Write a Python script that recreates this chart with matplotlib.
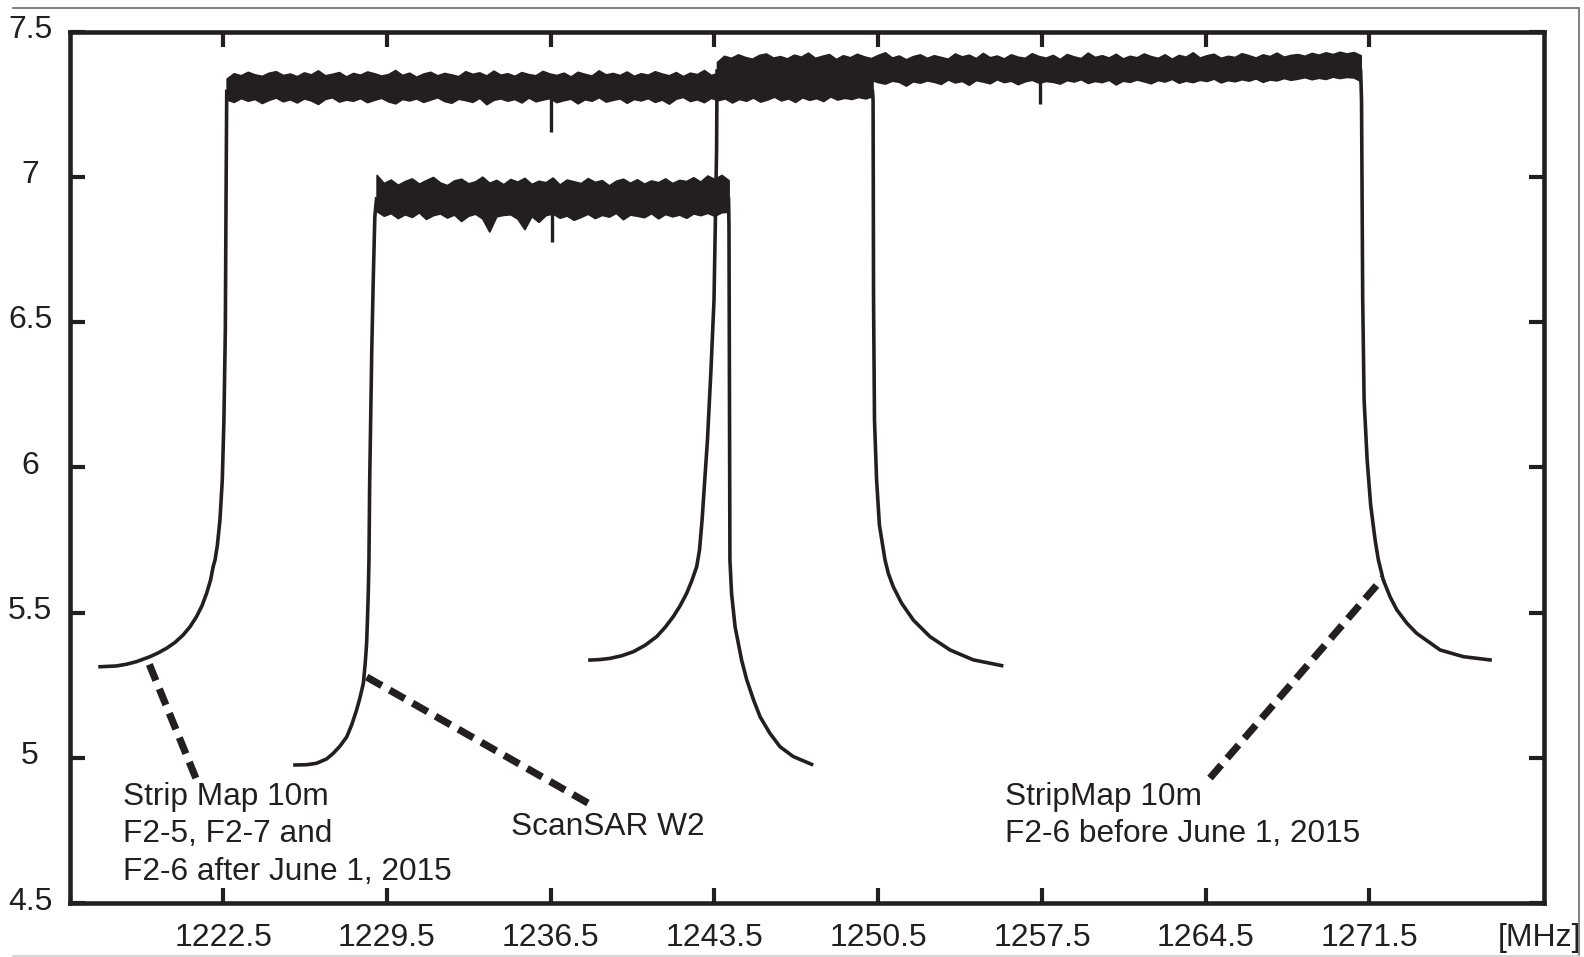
import numpy as np
import matplotlib
matplotlib.use('Agg')
import matplotlib.pyplot as plt
from matplotlib.lines import Line2D
from matplotlib.transforms import ScaledTranslation

plt.rcParams['font.family'] = ['Liberation Sans', 'DejaVu Sans']

# ---------------- axis data ----------------
x_ticks = [1222.5, 1229.5, 1236.5, 1243.5, 1250.5, 1257.5, 1264.5, 1271.5]
x_tick_labels = ['1222.5', '1229.5', '1236.5', '1243.5', '1250.5', '1257.5', '1264.5', '1271.5']
y_ticks = [4.5, 5.0, 5.5, 6.0, 6.5, 7.0, 7.5]
y_tick_labels = ['4.5', '5', '5.5', '6', '6.5', '7', '7.5']
unit_label = '[MHz]'
unit_pos = 1278.75

# ---------------- spectrum A: Strip Map 10m (after June 1, 2015) ----------------
A_left_x = [1217.16, 1217.94, 1218.37, 1218.80, 1219.37, 1219.72, 1220.08, 1220.44,
            1220.79, 1221.08, 1221.36, 1221.59, 1221.79, 1221.96, 1222.07, 1222.15,
            1222.25, 1222.36, 1222.46, 1222.53, 1222.59, 1222.62, 1222.65]
A_left_y = [5.313, 5.316, 5.322, 5.331, 5.348, 5.361, 5.377, 5.397,
            5.423, 5.451, 5.486, 5.523, 5.566, 5.612, 5.658, 5.681,
            5.732, 5.818, 5.956, 6.163, 6.473, 6.920, 7.300]
A_top_start, A_top_end = 1222.65, 1250.25
A_top_upper = [7.338, 7.356, 7.349, 7.361, 7.352, 7.347, 7.358, 7.363, 7.350, 7.355,
               7.346, 7.359, 7.352, 7.366, 7.349, 7.354, 7.360, 7.345, 7.357, 7.351,
               7.362, 7.356, 7.348, 7.353, 7.367, 7.350, 7.358, 7.344, 7.355, 7.361,
               7.349, 7.357, 7.352, 7.346, 7.363, 7.354, 7.359, 7.348, 7.365, 7.351,
               7.356, 7.347, 7.360, 7.353, 7.349, 7.364, 7.355, 7.350, 7.358, 7.345,
               7.361, 7.354, 7.348, 7.366, 7.352, 7.357, 7.350, 7.362, 7.347, 7.356,
               7.351, 7.363, 7.355, 7.349, 7.360, 7.346, 7.358, 7.353, 7.367, 7.350,
               7.357, 7.362, 7.348, 7.355, 7.351, 7.364, 7.357, 7.349, 7.360, 7.354,
               7.366, 7.352, 7.358, 7.347, 7.361, 7.355, 7.350, 7.363, 7.356, 7.352,
               7.359, 7.354, 7.348]
A_top_lower = [7.266, 7.258, 7.271, 7.262, 7.268, 7.254, 7.265, 7.273, 7.260, 7.267,
               7.256, 7.270, 7.263, 7.251, 7.268, 7.274, 7.259, 7.266, 7.262, 7.271,
               7.257, 7.265, 7.272, 7.260, 7.253, 7.268, 7.263, 7.270, 7.258, 7.266,
               7.274, 7.261, 7.255, 7.269, 7.264, 7.258, 7.272, 7.250, 7.265, 7.270,
               7.262, 7.268, 7.256, 7.273, 7.260, 7.266, 7.271, 7.257, 7.264, 7.269,
               7.253, 7.267, 7.262, 7.274, 7.259, 7.265, 7.270, 7.255, 7.268, 7.263,
               7.271, 7.258, 7.266, 7.252, 7.269, 7.275, 7.261, 7.267, 7.257, 7.272,
               7.264, 7.270, 7.256, 7.268, 7.262, 7.273, 7.259, 7.266, 7.276, 7.263,
               7.270, 7.258, 7.274, 7.265, 7.271, 7.261, 7.277, 7.266, 7.272, 7.268,
               7.275, 7.270, 7.278]
A_right_x = [1250.25, 1250.28, 1250.30, 1250.34, 1250.43, 1250.55, 1250.79, 1250.93,
             1251.14, 1251.50, 1252.00, 1252.71, 1253.57, 1254.56, 1255.85]
A_right_y = [7.300, 7.264, 6.576, 6.163, 5.957, 5.801, 5.681, 5.635,
             5.589, 5.532, 5.474, 5.417, 5.371, 5.337, 5.316]

# ---------------- spectrum B: ScanSAR W2 ----------------
B_left_x = [1225.49, 1226.07, 1226.49, 1226.92, 1227.20, 1227.49, 1227.78, 1227.99,
            1228.20, 1228.34, 1228.49, 1228.57, 1228.63, 1228.67, 1228.70, 1228.73,
            1228.76, 1228.85, 1228.91, 1228.98, 1229.06]
B_left_y = [4.975, 4.976, 4.981, 4.996, 5.015, 5.040, 5.072, 5.113,
            5.164, 5.205, 5.256, 5.325, 5.394, 5.486, 5.566, 5.681,
            5.946, 6.404, 6.634, 6.862, 6.930]
B_top_start, B_top_end = 1229.06, 1244.10
B_top_upper = [7.006, 6.978, 6.990, 6.972, 6.985, 6.994, 6.976, 6.988, 6.999, 6.980,
               6.971, 6.987, 6.993, 6.977, 6.984, 7.000, 6.979, 6.989, 6.974, 6.992,
               6.983, 6.996, 6.975, 6.986, 6.981, 6.997, 6.973, 6.990, 6.984, 6.978,
               6.995, 6.982, 6.988, 6.970, 6.986, 6.993, 6.979, 6.991, 6.976, 6.987,
               6.981, 6.994, 6.978, 6.989, 6.985, 6.998, 6.983, 7.004, 6.992, 7.006,
               6.988]
B_top_lower = [6.882, 6.866, 6.875, 6.858, 6.871, 6.862, 6.878, 6.855, 6.868, 6.874,
               6.860, 6.870, 6.848, 6.866, 6.873, 6.857, 6.812, 6.864, 6.869, 6.871,
               6.856, 6.820, 6.865, 6.845, 6.868, 6.874, 6.859, 6.867, 6.852, 6.862,
               6.873, 6.858, 6.869, 6.863, 6.876, 6.854, 6.870, 6.866, 6.861, 6.875,
               6.857, 6.872, 6.864, 6.870, 6.859, 6.874, 6.868, 6.876, 6.866, 6.878,
               6.880]
B_right_x = [1244.10, 1244.12, 1244.16, 1244.23, 1244.38, 1244.66, 1244.88, 1245.17,
             1245.45, 1245.87, 1246.30, 1246.87, 1247.72]
B_right_y = [6.930, 6.830, 5.681, 5.566, 5.451, 5.336, 5.268, 5.199,
             5.141, 5.084, 5.038, 5.004, 4.975]

# ---------------- spectrum C: StripMap 10m (before June 1, 2015) ----------------
C_left_x = [1238.10, 1238.60, 1239.03, 1239.53, 1240.03, 1240.53, 1241.03, 1241.38,
            1241.74, 1242.03, 1242.31, 1242.53, 1242.74, 1242.86, 1242.97, 1243.07,
            1243.20, 1243.35, 1243.48, 1243.59, 1243.61]
C_left_y = [5.336, 5.338, 5.342, 5.351, 5.365, 5.387, 5.417, 5.448,
            5.486, 5.523, 5.566, 5.609, 5.658, 5.715, 5.818, 5.939,
            6.094, 6.335, 6.576, 7.092, 7.370]
C_top_start, C_top_end = 1243.61, 1271.12
C_top_upper = [7.395, 7.416, 7.409, 7.421, 7.412, 7.406, 7.419, 7.424, 7.410, 7.415,
               7.407, 7.420, 7.413, 7.427, 7.409, 7.416, 7.422, 7.405, 7.418, 7.411,
               7.423, 7.414, 7.408, 7.419, 7.428, 7.410, 7.417, 7.404, 7.415, 7.421,
               7.409, 7.418, 7.412, 7.406, 7.424, 7.414, 7.420, 7.408, 7.426, 7.411,
               7.417, 7.407, 7.421, 7.413, 7.409, 7.425, 7.415, 7.410, 7.419, 7.405,
               7.422, 7.414, 7.408, 7.427, 7.412, 7.418, 7.410, 7.423, 7.407, 7.416,
               7.411, 7.424, 7.415, 7.409, 7.421, 7.406, 7.419, 7.413, 7.428, 7.410,
               7.418, 7.423, 7.409, 7.416, 7.412, 7.425, 7.418, 7.410, 7.421, 7.415,
               7.427, 7.413, 7.419, 7.422, 7.416, 7.426, 7.420, 7.428, 7.422, 7.430,
               7.424, 7.429, 7.418]
C_top_lower = [7.338, 7.322, 7.333, 7.326, 7.318, 7.331, 7.324, 7.336, 7.320, 7.329,
               7.334, 7.325, 7.316, 7.330, 7.327, 7.337, 7.321, 7.328, 7.333, 7.323,
               7.330, 7.318, 7.334, 7.326, 7.321, 7.331, 7.327, 7.314, 7.329, 7.324,
               7.332, 7.327, 7.320, 7.335, 7.325, 7.330, 7.317, 7.333, 7.328, 7.322,
               7.336, 7.326, 7.331, 7.319, 7.329, 7.334, 7.324, 7.330, 7.327, 7.321,
               7.333, 7.328, 7.336, 7.323, 7.330, 7.326, 7.334, 7.318, 7.331, 7.327,
               7.335, 7.329, 7.322, 7.333, 7.328, 7.337, 7.324, 7.331, 7.326, 7.334,
               7.330, 7.338, 7.325, 7.333, 7.329, 7.336, 7.331, 7.339, 7.327, 7.335,
               7.332, 7.340, 7.334, 7.338, 7.343, 7.336, 7.341, 7.337, 7.345, 7.340,
               7.344, 7.342, 7.330]
C_right_x = [1271.12, 1271.16, 1271.21, 1271.27, 1271.40, 1271.55, 1271.74, 1271.88,
             1272.09, 1272.38, 1272.67, 1273.10, 1273.52, 1274.52, 1275.51, 1276.73]
C_right_y = [7.370, 7.264, 6.576, 6.232, 6.025, 5.870, 5.750, 5.681,
             5.612, 5.554, 5.509, 5.463, 5.428, 5.371, 5.348, 5.336]

# narrow notches in the plateaus
dip_x = [1236.50, 1236.55, 1257.42]
dip_top = [7.300, 6.920, 7.370]
dip_bottom = [7.155, 6.775, 7.250]

# leader lines (start near label, end on curve)
lead_x0 = [1221.33, 1238.09, 1264.68]
lead_y0 = [4.930, 4.844, 4.930]
lead_x1 = [1219.23, 1228.63, 1272.08]
lead_y1 = [5.343, 5.278, 5.619]

# labels
label_lines = [["Strip Map 10m", "F2-5, F2-7 and", "F2-6 after June 1, 2015"],
               ["ScanSAR W2"],
               ["StripMap 10m", "F2-6 before June 1, 2015"]]
label_x = [1218.21, 1234.80, 1255.92]
label_y = [4.837, 4.734, 4.837]

# ---------------- drawing ----------------
INK = '#231f20'
fig = plt.figure(figsize=(15.84, 9.57), dpi=100)
ax = fig.add_axes([70 / 1584, 1 - 903 / 957, (1544 - 70) / 1584, (903 - 31.5) / 957])

spectra = [
    (A_left_x, A_left_y, A_top_start, A_top_end, A_top_upper, A_top_lower, A_right_x, A_right_y),
    (B_left_x, B_left_y, B_top_start, B_top_end, B_top_upper, B_top_lower, B_right_x, B_right_y),
    (C_left_x, C_left_y, C_top_start, C_top_end, C_top_upper, C_top_lower, C_right_x, C_right_y),
]
for lx, ly, ts, te, up, lo, rx, ry in spectra:
    ax.plot(lx, ly, color=INK, lw=2.6, solid_capstyle='butt', solid_joinstyle='round')
    tx = np.linspace(ts, te, len(up))
    ax.fill_between(tx, lo, up, color=INK, lw=1.3, edgecolor=INK)
    ax.plot(rx, ry, color=INK, lw=2.6, solid_capstyle='butt', solid_joinstyle='round')

ax.vlines(dip_x, dip_bottom, dip_top, color=INK, lw=2.4)

for x0, y0, x1, y1 in zip(lead_x0, lead_y0, lead_x1, lead_y1):
    ax.plot([x0, x1], [y0, y1], color=INK, lw=5.2, dashes=(2.4, 1.25), dash_capstyle='butt')

for lines, lx, ly in zip(label_lines, label_x, label_y):
    for i, t in enumerate(lines):
        ax.annotate(t, xy=(lx, ly), xytext=(0, -i * 26.8), textcoords='offset points',
                    ha='left', va='baseline', fontsize=22.8, color=INK)

ax.set_xlim(1215.95, 1278.96)
ax.set_ylim(4.5, 7.5)

ax.set_xticks(x_ticks + [unit_pos])
ax.set_xticklabels(x_tick_labels + [unit_label])
ax.set_yticks(y_ticks)
ax.set_yticklabels(y_tick_labels)

ax.tick_params(axis='both', direction='in', length=10.8, width=3.0, color=INK,
               labelsize=23, labelcolor=INK, top=True, right=True)
ax.tick_params(axis='x', pad=14.5)
ax.tick_params(axis='y', pad=28.8)

for sp in ax.spines.values():
    sp.set_linewidth(3.3)
    sp.set_color(INK)

# hide tick marks of the unit label
unit_tick = ax.xaxis.get_major_ticks()[-1]
unit_tick.tick1line.set_visible(False)
unit_tick.tick2line.set_visible(False)

off = ScaledTranslation(0, 5 / 100, fig.dpi_scale_trans)
for t in ax.yaxis.get_major_ticks():
    t.label1.set_horizontalalignment('center')
    t.label1.set_transform(t.label1.get_transform() + off)

# outer frame of the original figure
fig.add_artist(Line2D([13 / 1584, 1579 / 1584], [1 - 8 / 957, 1 - 8 / 957],
                      color='#808080', lw=1.4))
fig.add_artist(Line2D([1579 / 1584, 1579 / 1584], [1 - 8 / 957, 0],
                      color='#808080', lw=1.4))
fig.add_artist(Line2D([13 / 1584, 1579 / 1584], [1 - 955.5 / 957, 1 - 955.5 / 957],
                      color='#d0d0d0', lw=1.2))

fig.savefig('out.png', dpi=100)
